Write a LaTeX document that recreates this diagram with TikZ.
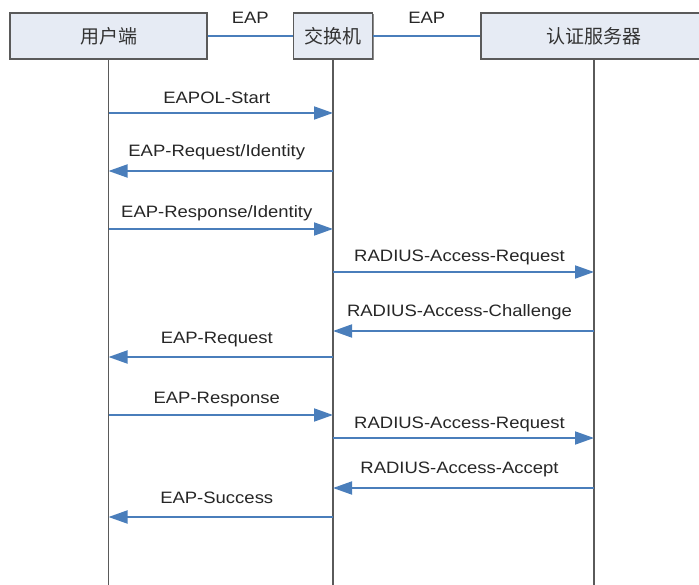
\documentclass[tikz,border=0pt]{standalone}
\usepackage{fontspec}
\setmainfont{Liberation Sans}
\newfontfamily\lblfont[FakeStretch=1.12]{Liberation Sans}
\newfontfamily\cjk{Noto Sans CJK SC}
\usepackage{xcolor}
\usetikzlibrary{arrows.meta, positioning, shadows}
\definecolor{msgblue}{HTML}{4A7EBB}
\definecolor{boxfill}{HTML}{E6EBF4}
\definecolor{lifegray}{HTML}{5A5A5A}
\tikzstyle{entity} = [draw=lifegray, line width=1.3pt, fill=boxfill, minimum height=46pt, inner sep=0pt, font=\cjk\fontsize{19}{19}\selectfont, text=black!80, drop shadow={shadow xshift=1.2pt, shadow yshift=-1.2pt, fill=black!45, opacity=1}]
\tikzstyle{msg} = [line width=1.8pt, draw=msgblue, -{Triangle[length=19pt, width=13pt, fill=msgblue]}]
\tikzstyle{life} = [line width=1.3pt, draw=lifegray]
\tikzstyle{lbl} = [font=\lblfont\fontsize{16.5}{16.5}\selectfont, text=black!85, inner sep=0pt]

\begin{document}
\begin{tikzpicture}[x=1pt, y=-1pt]
    \useasboundingbox (0,0) rectangle (699,585);

    % Entities
    \node[entity, minimum width=197pt] (user) at (108.5,36) {用户端};
    \node[entity, minimum width=79pt] (sw) at (333,36) {交换机};
    \node[entity, minimum width=226pt] (srv) at (594,36) {认证服务器};

    % EAP links
    \draw[msgblue, line width=1.8pt] (user.east) -- (sw.west) node[midway, lbl, above=12pt] {EAP};
    \draw[msgblue, line width=1.8pt] (sw.east) -- (srv.west) node[midway, lbl, above=12pt] {EAP};

    % Lifelines
    \foreach \n in {user, sw, srv} {
        \coordinate (\n end) at (\n.south |- 0,590);
        \draw[life] (\n.south) -- (\n end);
    }

    % Messages: arrow y / label y / from / to / text
    \foreach \y/\ly/\from/\to/\txt [count=\i] in {
        113/98/user/sw/EAPOL-Start,
        171/152/sw/user/EAP-Request{/}Identity,
        229/213/user/sw/EAP-Response{/}Identity,
        272/257/sw/srv/RADIUS-Access-Request,
        331/312/srv/sw/RADIUS-Access-Challenge,
        357/340/sw/user/EAP-Request,
        415/400/user/sw/EAP-Response,
        438/424/sw/srv/RADIUS-Access-Request,
        488/469/srv/sw/RADIUS-Access-Accept,
        517/498/sw/user/EAP-Success} {
        \coordinate (s\i) at (\from.south |- 0,\y);
        \coordinate (e\i) at (\to.south |- 0,\y);
        \draw[msg] (s\i) -- (e\i) coordinate[midway] (m\i);
        \node[lbl] (t\i) at ([xshift=-4pt]m\i |- 0,\ly) {\txt};
    }
\end{tikzpicture}
\end{document}
